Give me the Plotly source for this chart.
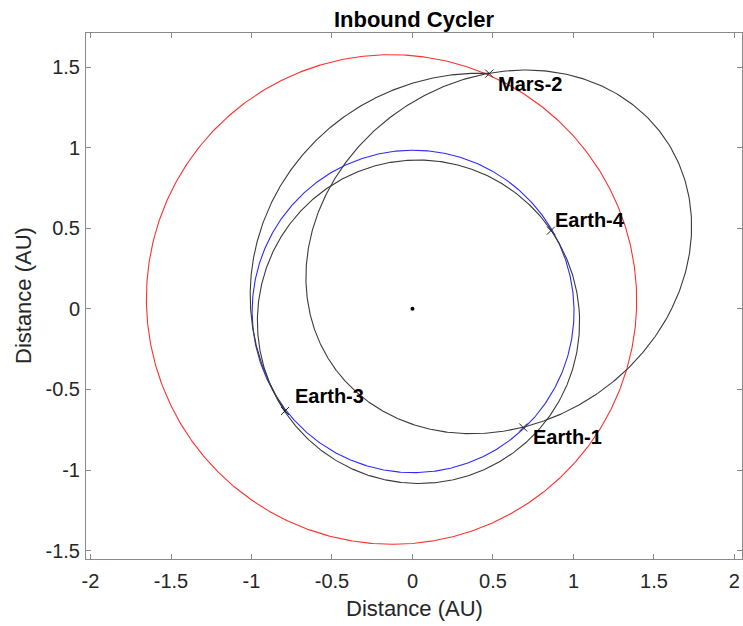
import numpy as np
import plotly.graph_objects as go

# ---- data (AU, degrees) ----
orbit_names = ["Earth", "Mars", "Cycler orbit", "Mars-Earth leg", "Earth-Earth leg"]
semi_major_au = [1.000, 1.524, 1.249, 1.401, 1.004]
eccentricity = [0.0167, 0.0934, 0.514, 0.289, 0.088]
perihelion_lon_deg = [102.9, 336.0, 213.4, 196.6, 115.0]
arc_start_deg = [0.0, 0.0, 0.0, 71.9, 0.0]
arc_end_deg = [360.0, 360.0, 360.0, 218.7, 360.0]

event_labels = ["Earth-1", "Mars-2", "Earth-3", "Earth-4"]
event_x = [0.688, 0.477, -0.792, 0.860]
event_y = [-0.736, 1.459, -0.634, 0.485]

sun_x = [0.0]
sun_y = [0.0]

x_ticks = [-2, -1.5, -1, -0.5, 0, 0.5, 1, 1.5, 2]
x_tick_text = ["-2", "-1.5", "-1", "-0.5", "0", "0.5", "1", "1.5", "2"]
y_ticks = [-1.5, -1, -0.5, 0, 0.5, 1, 1.5]
y_tick_text = ["-1.5", "-1", "-0.5", "0", "0.5", "1", "1.5"]

# ---- styles ----
orbit_colors = ["#2b2bff", "#ff3030", "#3a3a3a", "#3a3a3a", "#3a3a3a"]
label_shift = {"Earth-1": (8, -10), "Mars-2": (7, -10), "Earth-3": (8, 15), "Earth-4": (2, 11)}
FONT = "Liberation Sans, Arial, sans-serif"
AXIS_GREY = "#8a8a8a"
TEXT_GREY = "#262626"

fig = go.Figure()

for name, a, e, w, t0, t1, col in zip(orbit_names, semi_major_au, eccentricity,
                                        perihelion_lon_deg, arc_start_deg, arc_end_deg,
                                        orbit_colors):
    theta = np.radians(np.linspace(t0, t1, 721))
    p = a * (1 - e ** 2)
    r = p / (1 + e * np.cos(theta - np.radians(w)))
    fig.add_trace(go.Scatter(x=r * np.cos(theta), y=r * np.sin(theta), mode="lines",
                             name=name, line=dict(color=col, width=1.1),
                             hoverinfo="skip"))

fig.add_trace(go.Scatter(x=event_x, y=event_y, mode="markers", name="events",
                         marker=dict(symbol="x-thin", size=8, color="black",
                                     line=dict(color="#222222", width=1))))
fig.add_trace(go.Scatter(x=sun_x, y=sun_y, mode="markers", name="Sun",
                         marker=dict(symbol="circle", size=4, color="black")))

for lab, x, y in zip(event_labels, event_x, event_y):
    dx, dy = label_shift[lab]
    fig.add_annotation(x=x, y=y, text=f"<b>{lab}</b>", showarrow=False,
                       xanchor="left", yanchor="middle", xshift=dx, yshift=dy,
                       font=dict(family=FONT, size=20, color="black"))

# axis titles
fig.add_annotation(x=0.5, y=0, xref="paper", yref="paper", text="Distance (AU)",
                   showarrow=False, xanchor="center", yanchor="middle", yshift=-49,
                   font=dict(family=FONT, size=22, color=TEXT_GREY))
fig.add_annotation(x=0, y=0.5, xref="paper", yref="paper", text="Distance (AU)",
                   showarrow=False, textangle=-90, xanchor="center", yanchor="middle",
                   xshift=-63, font=dict(family=FONT, size=22, color=TEXT_GREY))

axis_common = dict(showgrid=False, zeroline=False, showline=True, linecolor=AXIS_GREY,
                   linewidth=1, mirror="ticks", ticks="inside", ticklen=5,
                   tickcolor=AXIS_GREY, tickwidth=1,
                   tickfont=dict(family=FONT, size=20, color=TEXT_GREY))

fig.update_layout(
    width=743, height=626,
    margin=dict(l=86, r=1, t=33, b=67),
    paper_bgcolor="white", plot_bgcolor="white",
    showlegend=False,
    title=dict(text="<b>Inbound Cycler</b>", x=0.5, xref="paper", y=1 - 19 / 626,
               yref="container", xanchor="center", yanchor="middle",
               font=dict(family=FONT, size=22, color="black")),
    xaxis=dict(range=[-2.028, 2.047], tickvals=x_ticks, ticktext=x_tick_text,
               ticklabelstandoff=4, **axis_common),
    yaxis=dict(range=[-1.552, 1.711], tickvals=y_ticks, ticktext=y_tick_text,
               ticklabelstandoff=1, **axis_common),
)

fig.write_html("out.html", config={"displayModeBar": False},
               post_script="document.body.style.margin='0';document.body.style.overflow='hidden';")
